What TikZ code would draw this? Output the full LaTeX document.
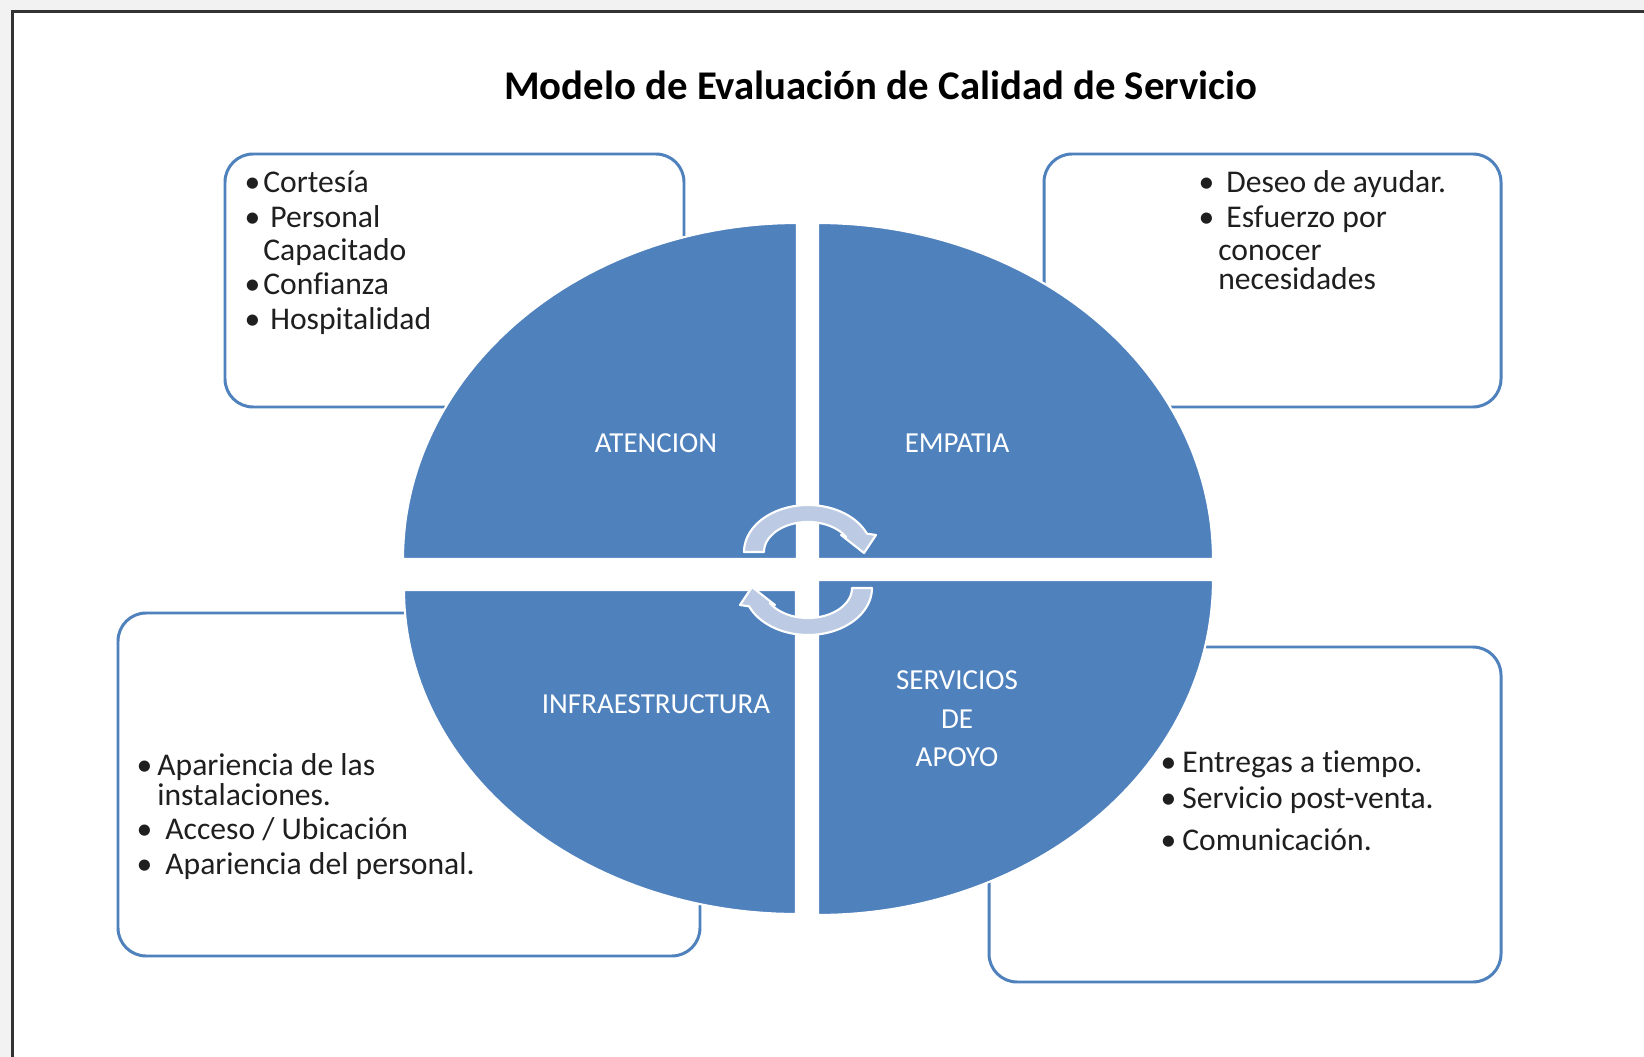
\documentclass[tikz,border=0pt]{standalone}
\usepackage{fontspec}
\setmainfont[RawFeature=-liga]{Carlito}
\newdimen\pxu \pxu=0.5669pt
\newcommand\bu[1]{\llap{\makebox[0pt][c]{\textbullet}\hspace{#1\pxu}}}
\definecolor{qblue}{HTML}{4F81BD}
\definecolor{arrowc}{HTML}{BCCBE3}
\tikzset{
  box/.style={draw=qblue, line width=1.7pt, fill=white, rounded corners=16pt},
  quad/.style={fill=qblue, draw=white, line width=1.2pt},
  qlabel/.style={text=white, font=\fontsize{16.5}{22}\selectfont, align=center, inner sep=0pt},
  itemtxt/.style={anchor=base west, inner sep=0pt, font=\fontsize{18}{21}\selectfont, text=black!88},
  cyc/.style={fill=arrowc, draw=white, line width=1.2pt, line join=round},
  frameline/.style={draw=black!80, line width=1.4pt}
}
\begin{document}
\begin{tikzpicture}[x=0.02cm, y=-0.02cm]
\useasboundingbox (0,0) rectangle (1644,1057);
\fill[white] (0,0) rectangle (1644,1057);
\fill[black!5] (0,0) rectangle (1644,11);
\fill[black!5] (0,0) rectangle (12,1057);
\draw[frameline] (1644,11.5) -- (12.5,11.5) -- (12.5,1057);

% boxes
\draw[box] (225,154) rectangle (684,407);
\draw[box] (1044,154) rectangle (1501,407);
\draw[box] (118,613) rectangle (700,956);
\draw[box] (989,647) rectangle (1501,982);

% quadrants
\path[quad] (797,559) -- plot[domain=180:270, samples=60, variable=\t] ({797+394*cos(\t)},{559+336*sin(\t)}) -- cycle;
\path[quad] (818,559) -- plot[domain=270:360, samples=60, variable=\t] ({818+395*cos(\t)},{559+336*sin(\t)}) -- cycle;
\path[quad] (818,580) -- plot[domain=0:90, samples=60, variable=\t] ({818+395*cos(\t)},{580+335*sin(\t)}) -- cycle;
\path[quad] (796,590) -- plot[domain=90:180, samples=60, variable=\t] ({796+392*cos(\t)},{590+324*sin(\t)}) -- cycle;

% quadrant labels
\node[qlabel] (atencion) at (656,443) {ATENCION};
\node[qlabel] (empatia) at (957,443) {EMPATIA};
\node[qlabel] (infra) at (656,704) {INFRAESTRUCTURA};
\node[qlabel] (servicios) at (957,719) {SERVICIOS\\DE\\APOYO};

% cycle arrows
\path[cyc] plot[domain=180:337, samples=40, variable=\t] ({808+64*cos(\t)},{552+47*sin(\t)})
  -- (876,535) -- (864,553) -- (841,535)
  -- plot[domain=330:180, samples=40, variable=\t] ({808+44*cos(\t)},{552+30*sin(\t)}) -- cycle;
\begin{scope}[rotate around={180:(808,570)}]
\path[cyc] plot[domain=180:337, samples=40, variable=\t] ({808+64*cos(\t)},{552+47*sin(\t)})
  -- (876,535) -- (864,553) -- (841,535)
  -- plot[domain=330:180, samples=40, variable=\t] ({808+44*cos(\t)},{552+30*sin(\t)}) -- cycle;
\end{scope}

% title
\node[anchor=base, inner sep=0pt, font=\fontsize{23.2}{28}\selectfont\bfseries] (title) at (881,100) {Modelo de Evaluación de Calidad de Servicio};

% top-left texts
\node[itemtxt] (t1a) at (263,193) {\bu{11}Cortesía};
\node[itemtxt] (t1b) at (270,228) {\bu{18}Personal};
\node[itemtxt] (t1c) at (263,261) {Capacitado};
\node[itemtxt] (t1d) at (263,295) {\bu{11}Confianza};
\node[itemtxt] (t1e) at (270,330) {\bu{18}Hospitalidad};

% top-right texts
\node[itemtxt] (t2a) at (1226,193) {\bu{20}Deseo de ayudar.};
\node[itemtxt] (t2b) at (1226,228) {\bu{20}Esfuerzo por};
\node[itemtxt] (t2c) at (1218,261) {conocer};
\node[itemtxt] (t2d) at (1218,290) {necesidades};

% bottom-left texts
\node[itemtxt] (t3a) at (157,775) {\bu{13}Apariencia de las};
\node[itemtxt] (t3b) at (157,805) {instalaciones.};
\node[itemtxt] (t3c) at (165,839) {\bu{21}Acceso / Ubicación};
\node[itemtxt] (t3d) at (165,874) {\bu{21}Apariencia del personal.};

% bottom-right texts
\node[itemtxt] (t4a) at (1182,772) {\bu{14}Entregas a tiempo.};
\node[itemtxt] (t4b) at (1182,808) {\bu{14}Servicio post-venta.};
\node[itemtxt] (t4c) at (1182,850) {\bu{14}Comunicación.};
\end{tikzpicture}
\end{document}
